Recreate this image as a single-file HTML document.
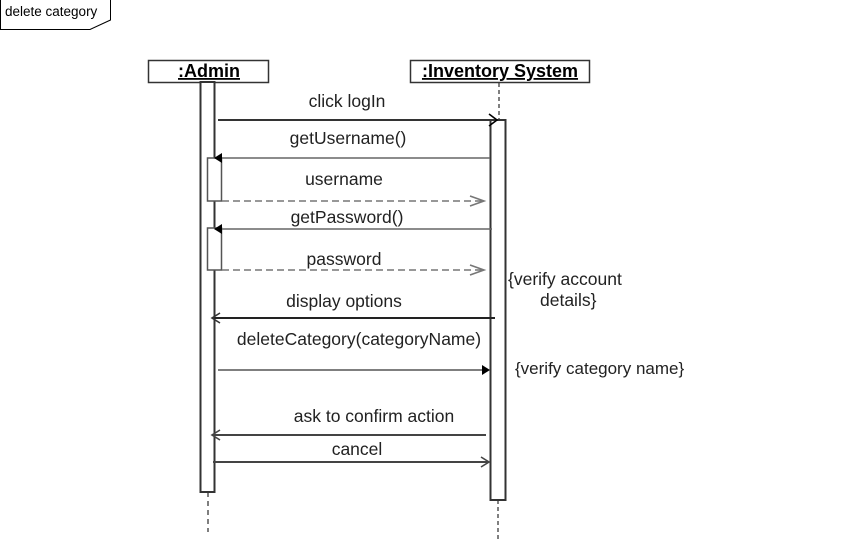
<!DOCTYPE html>
<html><head><style>body{margin:0;background:#fff}svg{display:block}</style></head><body>
<svg width="842" height="560" viewBox="0 0 842 560" xmlns="http://www.w3.org/2000/svg" font-family="Liberation Sans, sans-serif" font-size="17.5" fill="#000">
<rect width="842" height="560" fill="#fff"/>
<path d="M0.5,0 V29.5 H90 L110.5,20 V0" fill="none" stroke="#000" stroke-width="1"/>
<text x="5" y="16" font-size="13.5">delete category</text>
<line x1="208" y1="492" x2="208" y2="532" stroke="#555" stroke-width="1.5" stroke-dasharray="5,4"/>
<line x1="499" y1="83" x2="499" y2="120" stroke="#000" stroke-width="1" stroke-dasharray="4,3"/>
<line x1="498" y1="500" x2="498" y2="540" stroke="#000" stroke-width="1" stroke-dasharray="4,3"/>
<rect x="148.5" y="60.5" width="120" height="22" fill="#fff" stroke="#333" stroke-width="1.5"/>
<text x="209" y="77" text-anchor="middle" font-weight="bold" font-size="18" text-decoration="underline">:Admin</text>
<rect x="410.5" y="60.5" width="179" height="22" fill="#fff" stroke="#333" stroke-width="1.5"/>
<text x="500" y="77" text-anchor="middle" font-weight="bold" font-size="18" text-decoration="underline">:Inventory System</text>
<rect x="200.5" y="82" width="14" height="410" fill="#fff" stroke="#333" stroke-width="2"/>
<rect x="490.5" y="120" width="15" height="380" fill="#fff" stroke="#333" stroke-width="2"/>
<rect x="207.5" y="158" width="14" height="43" fill="#fff" stroke="#555" stroke-width="1.5"/>
<rect x="207.5" y="228" width="14" height="42" fill="#fff" stroke="#555" stroke-width="1.5"/>
<g fill="none" stroke-width="1.6">
<line x1="218" y1="120" x2="497" y2="120" stroke="#333" stroke-width="2"/>
<polyline points="489,114 497,120 489,126" stroke="#000"/>
<line x1="222" y1="158" x2="490" y2="158" stroke="#666"/>
<line x1="222" y1="201" x2="482" y2="201" stroke="#777" stroke-dasharray="7,4"/>
<polyline points="470,196 484,201 470,206" stroke="#777"/>
<line x1="222" y1="229" x2="492" y2="229" stroke="#666"/>
<line x1="222" y1="270" x2="482" y2="270" stroke="#777" stroke-dasharray="7,4"/>
<polyline points="470,265 484,270 470,275" stroke="#777"/>
<line x1="212" y1="318" x2="495" y2="318" stroke="#222" stroke-width="2"/>
<polyline points="220,313 212,318 220,323" stroke="#333"/>
<line x1="218" y1="370" x2="484" y2="370" stroke="#555"/>
<line x1="212" y1="435" x2="486" y2="435" stroke="#444" stroke-width="2"/>
<polyline points="220,430 212,435 220,440" stroke="#444"/>
<line x1="213" y1="462" x2="489" y2="462" stroke="#444" stroke-width="2"/>
<polyline points="481,457 489,462 481,467" stroke="#444"/>
</g>
<polygon points="214,158 222,153 222,163" fill="#000"/>
<polygon points="214,229 222,224 222,234" fill="#000"/>
<polygon points="490,370 482,365 482,375" fill="#000"/>
<g fill="#222">
<text x="347" y="107" text-anchor="middle">click logIn</text>
<text x="348" y="144" text-anchor="middle">getUsername()</text>
<text x="344" y="185" text-anchor="middle">username</text>
<text x="347" y="223" text-anchor="middle">getPassword()</text>
<text x="344" y="265" text-anchor="middle">password</text>
<text x="344" y="307" text-anchor="middle">display options</text>
<text x="359" y="345" text-anchor="middle">deleteCategory(categoryName)</text>
<text x="374" y="422" text-anchor="middle">ask to confirm action</text>
<text x="357" y="455" text-anchor="middle">cancel</text>
<text x="508" y="285">{verify account</text>
<text x="540" y="306">details}</text>
<text x="515" y="374" font-size="17">{verify category name}</text>
</g>
</svg>
</body></html>
